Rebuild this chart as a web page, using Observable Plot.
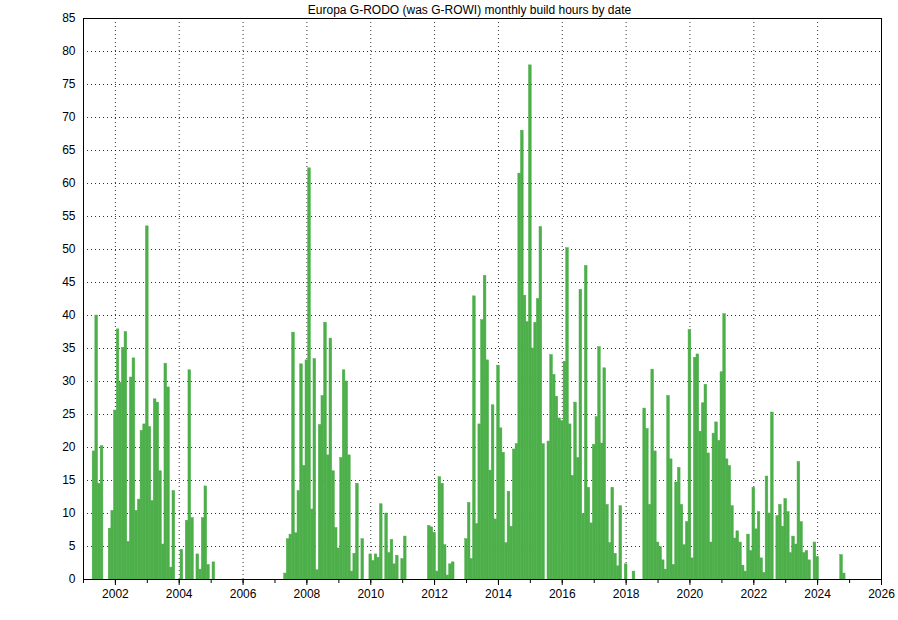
<!DOCTYPE html>
<html>
<head>
<meta charset="utf-8">
<script src="https://cdn.jsdelivr.net/npm/d3@7"></script>
<script src="https://cdn.jsdelivr.net/npm/@observablehq/plot@0.6"></script>
<style>
  html, body { margin: 0; padding: 0; background: #fff; }
  #chart { width: 898px; height: 620px; }
  svg { font-family: "Liberation Sans", Arial, Helvetica, sans-serif; }
</style>
</head>
<body>
<div id="chart"></div>
<script>
// Monthly build hours, one array per year (Jan..Dec)
const h2001 = [0, 0, 0, 0, 19.4, 40, 14.5, 20.2, 0, 0, 7.7, 10.4];
const h2002 = [25.6, 37.9, 29.8, 35.1, 37.5, 5.7, 30.6, 33.5, 10.4, 12.1, 22.5, 23.5];
const h2003 = [53.5, 23.1, 11.9, 27.3, 26.8, 16.4, 5.3, 32.7, 29.1, 1.8, 13.4, 0];
const h2004 = [0, 4.5, 0, 8.9, 31.7, 9.3, 0, 3.8, 1.5, 9.3, 14.1, 2.2];
const h2005 = [0, 2.6, 0, 0, 0, 0, 0, 0, 0, 0, 0, 0];
const h2007 = [0, 0, 0, 0, 0.9, 6.1, 6.8, 37.4, 7.0, 13.4, 32.6, 17.2];
const h2008 = [33.2, 62.3, 10.6, 33.4, 1.4, 23.4, 27.8, 38.9, 18.8, 36.5, 16.4, 7.8];
const h2009 = [4.7, 18.4, 31.7, 30.0, 18.8, 1.2, 3.9, 14.5, 0, 6.1, 0, 0];
const h2010 = [3.8, 2.8, 3.8, 3.3, 11.4, 0, 10, 4.0, 6.0, 2.3, 3.6, 0];
const h2011 = [3.1, 6.5, 0, 0, 0, 0, 0, 0, 0, 0, 8.1, 7.9];
const h2012 = [7.1, 1.2, 15.5, 14.5, 5.2, 0.6, 2.3, 2.6, 0, 0, 0, 0];
const h2013 = [6.1, 11.6, 3.1, 42.9, 8.4, 23.5, 39.3, 46, 33.2, 16.5, 26.4, 9.1];
const h2014 = [32.4, 22.9, 19.2, 5.5, 13.3, 8.0, 19.7, 20.5, 61.5, 68, 43, 39];
const h2015 = [77.9, 35, 38.9, 42.5, 53.4, 20.5, 0, 20.9, 34, 31, 27.7, 24.4];
const h2016 = [24, 33, 50.2, 23.5, 15.7, 26.8, 18.4, 43.9, 9.9, 47.5, 13.9, 8.5];
const h2017 = [20.4, 24.6, 35.2, 20.6, 32, 11.3, 5.5, 13.9, 3.9, 2.0, 11.1, 0];
const h2018 = [2.3, 0, 0, 1.2, 0, 0, 0, 25.9, 22.8, 11.3, 31.8, 19.4];
const h2019 = [5.6, 4.9, 2.9, 1.5, 27.8, 18.2, 2.2, 14.7, 16.9, 11.3, 5.2, 8.7];
const h2020 = [37.8, 3.2, 33.6, 34.1, 22.4, 26.7, 29.5, 19.1, 5.6, 22.1, 23.8, 21];
const h2021 = [31.4, 40.2, 18.2, 17.2, 11.1, 6.2, 7.3, 5.6, 2.1, 1.2, 6.8, 4.3];
const h2022 = [13.9, 7.6, 10.2, 3.2, 1.0, 15.6, 10.0, 25.3, 0, 9.6, 11.3, 8.0];
const h2023 = [12.2, 10.2, 4.0, 6.5, 5.3, 17.8, 8.7, 4.0, 4.3, 2.9, 0, 5.6];
const h2024 = [3.4, 0, 0, 0, 0, 0, 0, 0, 0, 3.7, 0.9, 0];

const yearList = [2001, 2002, 2003, 2004, 2005, 2007, 2008, 2009, 2010, 2011, 2012,
  2013, 2014, 2015, 2016, 2017, 2018, 2019, 2020, 2021, 2022, 2023, 2024];
const yearValues = [h2001, h2002, h2003, h2004, h2005, h2007, h2008, h2009, h2010, h2011, h2012,
  h2013, h2014, h2015, h2016, h2017, h2018, h2019, h2020, h2021, h2022, h2023, h2024];

const titleText = "Europa G-RODO (was G-ROWI) monthly build hours by date";
const yTicks = d3.range(0, 90, 5);
const yGrid = d3.range(5, 85, 5);

const data = yearList.flatMap((yr, i) =>
  yearValues[i].map((v, m) => ({ date: new Date(Date.UTC(yr, m, 1)), hours: v }))
).filter(d => d.hours > 0);

// gnuplot-style boxes centred on the first of each month
const half = (a, b) => new Date((+a + +b) / 2);

const xDomain = [new Date(Date.UTC(2001, 0, 1)), new Date(Date.UTC(2026, 0, 1))];
const majorYears = d3.utcYear.every(2).range(xDomain[0], d3.utcDay.offset(xDomain[1], 1));
const allYears = d3.utcYear.range(xDomain[0], d3.utcDay.offset(xDomain[1], 1));

const green = "#4daf4a";

const chart = Plot.plot({
  width: 898,
  height: 620,
  marginLeft: 83,
  marginRight: 17,
  marginTop: 18,
  marginBottom: 41,
  style: { fontFamily: "'Liberation Sans', Arial, Helvetica, sans-serif", fontSize: "12px", background: "#fff", overflow: "visible" },
  x: { type: "utc", domain: xDomain },
  y: { domain: [0, 85] },
  marks: [
    Plot.gridY(yGrid, { stroke: "#000", strokeOpacity: 0.8, strokeDasharray: "1,3" }),
    Plot.gridX(majorYears, { stroke: "#000", strokeOpacity: 0.8, strokeDasharray: "1,3" }),
    Plot.rectY(data, {
      x1: d => half(d3.utcMonth.offset(d.date, -1), d.date),
      x2: d => half(d.date, d3.utcMonth.offset(d.date, 1)),
      y1: 0,
      y2: "hours",
      fill: green,
      stroke: green,
      strokeWidth: 0.5,
      inset: 0
    }),
    Plot.axisY(yTicks, { tickSize: 0, tickPadding: 8, label: null, fill: "#000", fontSize: 12 }),
    Plot.axisX(allYears, { tickSize: 4, tickFormat: () => "", label: null }),
    Plot.axisX(majorYears, { tickSize: 6, tickPadding: 4, tickFormat: "%Y", label: null, fill: "#000", fontSize: 12 }),
    Plot.frame({ stroke: "#000" }),
    Plot.text([titleText], { frameAnchor: "top", lineAnchor: "middle", dy: -8, dx: -13, fontSize: 12, fill: "#000" })
  ]
});

document.getElementById("chart").appendChild(chart);
</script>
</body>
</html>
